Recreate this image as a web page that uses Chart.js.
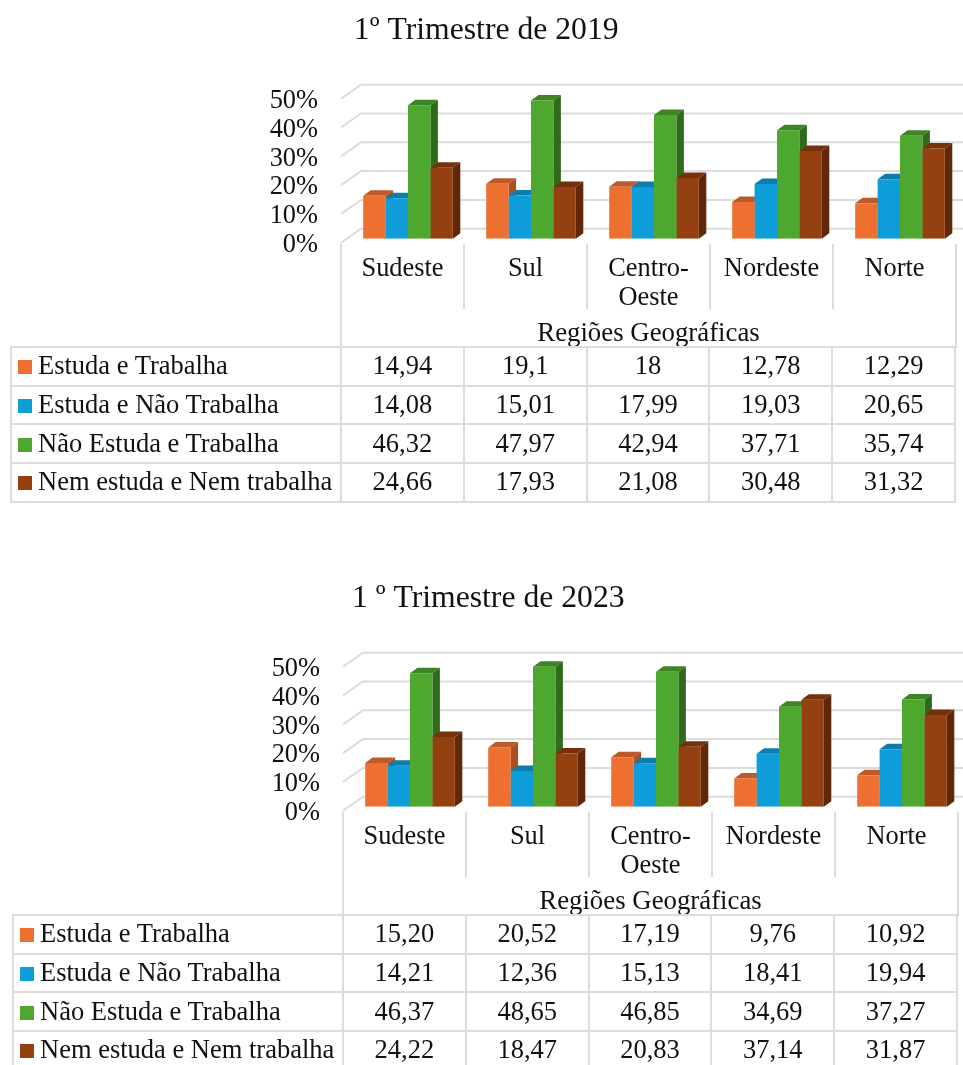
<!DOCTYPE html>
<html>
<head>
<meta charset="utf-8">
<script src="https://cdn.jsdelivr.net/npm/chart.js@4"></script>
<style>
  html, body { margin: 0; padding: 0; background: #fff; width: 963px; height: 1065px; overflow: hidden; }
  .panel { position: absolute; width: 963px; height: 540px; }
  .panel canvas { position: absolute; left: 0; top: 0; }
  table { position: absolute; left: 10px; top: 346px; width: 946px; table-layout: fixed; border-collapse: collapse;
          font-family: "Liberation Serif", serif; font-size: 26.5px; color: #111; }
  td { border: 2px solid #dcdcdc; padding: 0 0 1px 0; box-sizing: border-box; height: 38.7px; text-align: center; white-space: nowrap; }
  td:first-child { width: 330px; text-align: left; }
  .swatch { display: inline-block; width: 14px; height: 14px; margin: 0 6px 0 6px; }
</style>
</head>
<body>
<div class="panel" id="p2019" style="left:0;top:0"><canvas id="c2019" width="963" height="540"></canvas></div>
<div class="panel" id="p2023" style="left:2px;top:568px"><canvas id="c2023" width="963" height="540"></canvas></div>
<script>
const regions = ['Sudeste', 'Sul', ['Centro-', 'Oeste'], 'Nordeste', 'Norte'];
const seriesNames = ['Estuda e Trabalha', 'Estuda e Não Trabalha', 'Não Estuda e Trabalha', 'Nem estuda e Nem trabalha'];
const axisTitle = 'Regiões Geográficas';
const yTicks = [0, 10, 20, 30, 40, 50];

const estudaTrabalha2019 = [14.94, 19.1, 18, 12.78, 12.29];
const estudaNaoTrabalha2019 = [14.08, 15.01, 17.99, 19.03, 20.65];
const naoEstudaTrabalha2019 = [46.32, 47.97, 42.94, 37.71, 35.74];
const nemNem2019 = [24.66, 17.93, 21.08, 30.48, 31.32];

const estudaTrabalha2023 = [15.20, 20.52, 17.19, 9.76, 10.92];
const estudaNaoTrabalha2023 = [14.21, 12.36, 15.13, 18.41, 19.94];
const naoEstudaTrabalha2023 = [46.37, 48.65, 46.85, 34.69, 37.27];
const nemNem2023 = [24.22, 18.47, 20.83, 37.14, 31.87];

const frontColors = ['#ED7031', '#0F9DD9', '#4EA72E', '#954010'];
const topColors = ['#BC5A2A', '#0C7DAC', '#3D8424', '#74310C'];
const sideColors = ['#A94F22', '#0A6A93', '#2F6B1B', '#602809'];

const gridColor = '#dcdcdc';
const textColor = '#111';
const serif = '"Liberation Serif", serif';

// bars stand a bit inside the box, so the plot area is shifted from the table columns
const shiftX = 5.5;
const wallX = 14.5, wallY = -10;
const depthX = 7.5, depthY = -5.5;
const colW = 123;
const boxLeft = 341;

const fake3d = {
  id: 'fake3d',
  beforeDatasetsDraw(chart) {
    const ctx = chart.ctx, y = chart.scales.y, area = chart.chartArea;
    ctx.save();
    ctx.strokeStyle = gridColor;
    ctx.lineWidth = 2;
    yTicks.forEach(v => {
      const py = y.getPixelForValue(v) + wallY;
      const bx = area.left + wallX;
      ctx.beginPath();
      ctx.moveTo(boxLeft, py + 14);
      ctx.lineTo(bx, py);
      ctx.lineTo(chart.width, py);
      ctx.stroke();
    });
    // vertical separators under the plot
    const top = y.getPixelForValue(0) + 5;
    for (let i = 0; i <= regions.length; i++) {
      const px = boxLeft + i * colW;
      const end = (i === 0 || i === regions.length) ? 348 : 309;
      ctx.beginPath();
      ctx.moveTo(px, top);
      ctx.lineTo(px, end);
      ctx.stroke();
    }
    // top and side faces, left to right; the front faces come after from the library
    chart.data.datasets.forEach((ds, d) => {
      chart.getDatasetMeta(d).data.forEach(bar => {
        const l = bar.x - bar.width / 2, r = bar.x + bar.width / 2;
        ctx.fillStyle = topColors[d];
        ctx.beginPath();
        ctx.moveTo(l, bar.y);
        ctx.lineTo(l + depthX, bar.y + depthY);
        ctx.lineTo(r + depthX, bar.y + depthY);
        ctx.lineTo(r, bar.y);
        ctx.closePath();
        ctx.fill();
        ctx.fillStyle = sideColors[d];
        ctx.beginPath();
        ctx.moveTo(r, bar.y);
        ctx.lineTo(r + depthX, bar.y + depthY);
        ctx.lineTo(r + depthX, bar.base + depthY);
        ctx.lineTo(r, bar.base);
        ctx.closePath();
        ctx.fill();
      });
    });
    ctx.restore();
  },
  afterDraw(chart) {
    const ctx = chart.ctx;
    ctx.save();
    ctx.fillStyle = textColor;
    ctx.font = '26.8px ' + serif;
    ctx.textAlign = 'center';
    ctx.textBaseline = 'middle';
    ctx.fillText(axisTitle, boxLeft + regions.length * colW / 2, 333.5);
    ctx.restore();
  }
};

function drawPanel(canvasId, panelId, title, series, fmt) {
  new Chart(document.getElementById(canvasId), {
    type: 'bar',
    plugins: [fake3d],
    data: {
      labels: regions,
      datasets: series.map((values, i) => ({
        label: seriesNames[i],
        data: values,
        backgroundColor: frontColors[i],
        borderWidth: 0,
        categoryPercentage: 0.7285,
        barPercentage: 1
      }))
    },
    options: {
      responsive: false,
      animation: false,
      devicePixelRatio: 1,
      layout: { padding: { left: 11, right: 1.5, top: 0, bottom: 0 } },
      plugins: {
        legend: { display: false },
        tooltip: { enabled: false },
        title: {
          display: true,
          text: title,
          color: textColor,
          font: { family: serif, size: 31.7, weight: 'normal', lineHeight: 1.2 },
          padding: { top: 12, bottom: 44.7 }
        }
      },
      scales: {
        x: {
          grid: { display: false, drawTicks: false },
          border: { display: false },
          ticks: {
            color: textColor,
            font: { family: serif, size: 26.4, lineHeight: 1.1 },
            padding: 16,
            labelOffset: -shiftX,
            maxRotation: 0,
            autoSkip: false
          },
          afterFit(scale) { scale.height = 301.3; }
        },
        y: {
          min: 0,
          max: 50,
          grid: { display: false, drawTicks: false },
          border: { display: false },
          ticks: {
            stepSize: 10,
            autoSkip: false,
            color: textColor,
            font: { family: serif, size: 26.4 },
            padding: 28.5,
            labelOffset: 6.3,
            callback: v => v + '%'
          },
          afterFit(scale) { scale.width = 335.5; }
        }
      }
    }
  });

  // data table under the plot
  const table = document.createElement('table');
  seriesNames.forEach((name, i) => {
    const row = table.insertRow();
    const head = row.insertCell();
    const sw = document.createElement('span');
    sw.className = 'swatch';
    sw.style.background = frontColors[i];
    head.appendChild(sw);
    head.appendChild(document.createTextNode(name));
    series[i].forEach(v => { row.insertCell().textContent = fmt(v); });
  });
  document.getElementById(panelId).appendChild(table);
}

drawPanel('c2019', 'p2019', '1º Trimestre de 2019',
  [estudaTrabalha2019, estudaNaoTrabalha2019, naoEstudaTrabalha2019, nemNem2019],
  v => String(v).replace('.', ','));
drawPanel('c2023', 'p2023', '1 º Trimestre de 2023',
  [estudaTrabalha2023, estudaNaoTrabalha2023, naoEstudaTrabalha2023, nemNem2023],
  v => v.toFixed(2).replace('.', ','));
</script>
</body>
</html>
